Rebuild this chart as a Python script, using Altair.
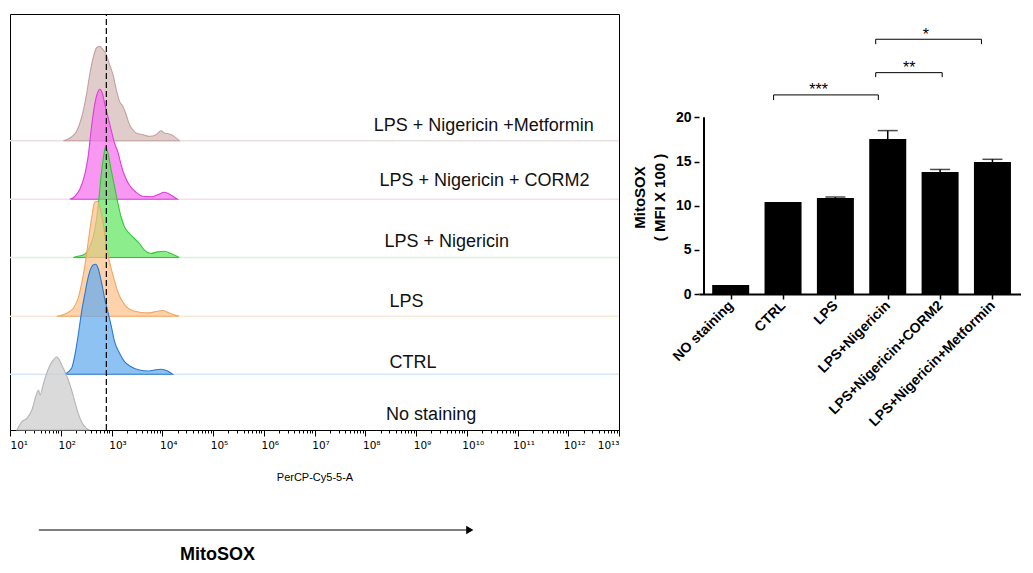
import math
import altair as alt
import pandas as pd

FONT = "Liberation Sans"

# ---------------- Flow cytometry histograms (x = log10 intensity, h = count height) -------------
samples = ["LPS + Nigericin +Metformin", "LPS + Nigericin + CORM2", "LPS + Nigericin",
           "LPS", "CTRL", "No staining"]
baselines = [289.3, 230.7, 172.5, 113.8, 55.7, 0.0]

met_x = [2.051, 2.180, 2.311, 2.409, 2.507, 2.571, 2.638, 2.703, 2.767, 2.834, 2.898, 2.963, 3.029,
         3.094, 3.159, 3.225, 3.290, 3.354, 3.421, 3.485, 3.616, 3.746, 3.877, 3.975, 4.039, 4.137,
         4.235, 4.333]
met_h = [0, 2.7, 9.3, 22.7, 46, 66, 82.7, 92.7, 94.3, 91, 86, 76, 66, 51, 39.3, 34.3, 26, 16, 11,
         7.7, 6, 4.3, 6, 10, 7.7, 6.7, 4.3, 0]

corm_x = [2.180, 2.278, 2.376, 2.474, 2.540, 2.605, 2.669, 2.722, 2.767, 2.820, 2.865, 2.932, 2.996,
          3.061, 3.127, 3.192, 3.256, 3.354, 3.485, 3.616, 3.779, 3.910, 4.039, 4.170, 4.300]
corm_h = [0, 3, 10, 25, 43, 72, 95, 106, 110, 106, 96, 82, 69, 56, 47, 34, 24, 14, 7, 3, 2.6, 4.5,
          7, 4.3, 0]

nig_x = [2.247, 2.311, 2.442, 2.571, 2.669, 2.736, 2.800, 2.853, 2.885, 2.932, 2.996, 3.061, 3.127,
         3.192, 3.256, 3.354, 3.452, 3.550, 3.648, 3.779, 3.910, 4.039, 4.170, 4.333]
nig_h = [0, 1, 2.5, 10.6, 27.3, 50.6, 84, 104, 110.6, 104, 87, 70.6, 54, 40, 30.6, 24, 19, 14, 7.3,
         4, 5.6, 6.3, 4, 0]

lps_x = [1.920, 2.115, 2.247, 2.344, 2.409, 2.474, 2.540, 2.605, 2.669, 2.722, 2.767, 2.834, 2.898,
         2.963, 3.029, 3.127, 3.225, 3.354, 3.550, 3.746, 3.877, 4.008, 4.137, 4.333]
lps_h = [0, 3, 8, 18, 32, 50, 74, 97, 114, 115, 110, 94, 71, 54, 41, 24, 14, 7, 4, 3.3, 4.7, 5.7,
         3.3, 0]

ctrl_x = [2.082, 2.213, 2.278, 2.344, 2.409, 2.474, 2.521, 2.571, 2.638, 2.689, 2.736, 2.800, 2.865,
          2.932, 2.996, 3.061, 3.159, 3.256, 3.387, 3.550, 3.714, 3.843, 3.975, 4.106, 4.204]
ctrl_h = [0, 6, 19, 39, 62, 80, 92.6, 102.6, 109.3, 110, 106, 92.6, 76, 62, 48, 32.6, 21, 12.6, 7.6,
          4.3, 3.3, 4.3, 5, 3.3, 0]

nost_x = [1.137, 1.202, 1.235, 1.333, 1.431, 1.528, 1.562, 1.593, 1.660, 1.724, 1.789, 1.855, 1.920,
          1.973, 2.018, 2.082, 2.149, 2.213, 2.278, 2.344, 2.409, 2.507, 2.571]
nost_h = [0, 6, 8.3, 11.7, 20, 36.7, 40, 35, 46.7, 56.7, 65, 70, 73.3, 70, 65, 58.3, 50, 40, 28.3,
          16.7, 8.3, 1.7, 0]

curves_x = [met_x, corm_x, nig_x, lps_x, ctrl_x, nost_x]
curves_h = [met_h, corm_h, nig_h, lps_h, ctrl_h, nost_h]

gate_log = 2.898  # dashed reference line

# sample label placement (log10 x of label start, height)
label_x = [8.168, 8.280, 8.378, 8.476, 8.476, 8.411]
label_y = [304, 249, 188.3, 128.3, 66.7, 15]

fills = ["#d6b9b9", "#f570ee", "#5ee65e", "#fdc18a", "#62aaee", "#cccccc"]
strokes = ["#c4a0a0", "#dc3fd6", "#36c436", "#f0a664", "#2c78cf", "#b5b5b5"]
base_colors = ["#e9e1e1", "#f9dcf3", "#d8f3d8", "#f8ead8", "#d5e7f6"]

# ---------------- Bar chart data ----------------
groups = ["NO staining", "CTRL", "LPS", "LPS+Nigericin", "LPS+Nigericin+CORM2",
          "LPS+Nigericin+Metformin"]
means = [1.02, 10.42, 10.87, 17.55, 13.80, 14.95]
sems = [0.0, 0.0, 0.10, 0.95, 0.30, 0.30]

br_x1 = [0.82, 2.77, 2.77]
br_x2 = [2.82, 4.04, 4.79]
br_y = [22.54, 25.06, 28.84]
br_drop = [21.95, 24.55, 28.28]
br_label = ["***", "**", "*"]
br_label_x = [1.68, 3.41, 3.73]

# ======================= LEFT PANEL =======================
sup = "['⁰','¹','²','³','⁴','⁵','⁶','⁷','⁸','⁹','¹⁰','¹¹','¹²','¹³']"
tick_vals = []
for n in range(1, 13):
    for k in range(1, 10):
        tick_vals.append(round(n + math.log10(k), 6))
tick_vals.append(13)

x_scale = alt.Scale(domain=[1, 13], nice=False, zero=False)
y_scale = alt.Scale(domain=[0, 416], nice=False, zero=False)

x_axis = alt.Axis(
    values=tick_vals,
    labelExpr="datum.value % 1 === 0 ? '10' + " + sup + "[datum.value] : ''",
    tickSize={"condition": {"test": "datum.value % 1 === 0", "value": 6}, "value": 3},
    labelOffset={"condition": {"test": "datum.value === 1 || datum.value === 13", "value": 0},
                 "value": 6},
    labelFlush=True, labelOverlap=False, labelFontSize=10.5, labelColor="black",
    labelFont="DejaVu Sans",
    labelPadding=4, tickColor="black", domainColor="black", grid=False,
    title="PerCP-Cy5-5-A", titleFontSize=11, titleFontWeight="normal", titleColor="black",
    titlePadding=21,
)

X = alt.X("x:Q", scale=x_scale, axis=x_axis)

layers = []

base_df = pd.DataFrame({"x": [1] * 5, "x2": [13] * 5, "y": baselines[:5], "c": base_colors})
layers.append(
    alt.Chart(base_df).mark_rule(strokeWidth=1.6).encode(
        x=X, x2="x2:Q", y=alt.Y("y:Q", scale=y_scale, axis=None),
        color=alt.Color("c:N", scale=None))
)

for i in range(6):
    df = pd.DataFrame({"x": curves_x[i], "h": curves_h[i]})
    df["base"] = baselines[i]
    df["top"] = df["base"] + df["h"]
    layers.append(
        alt.Chart(df).mark_area(fill=fills[i], fillOpacity=0.72, stroke=strokes[i],
                                strokeWidth=1.1, interpolate="monotone").encode(
            x=X, y=alt.Y("top:Q", scale=y_scale, axis=None), y2="base:Q")
    )

gate_df = pd.DataFrame({"x": [gate_log], "y": [0], "y2": [416]})
layers.append(
    alt.Chart(gate_df).mark_rule(color="black", strokeWidth=1.2, strokeDash=[6, 3]).encode(
        x=X, y=alt.Y("y:Q", scale=y_scale, axis=None), y2="y2:Q")
)

lab_df = pd.DataFrame({"x": label_x, "y": label_y, "t": samples})
layers.append(
    alt.Chart(lab_df).mark_text(align="left", baseline="middle", fontSize=18, color="#111",
                                font=FONT).encode(
        x=X, y=alt.Y("y:Q", scale=y_scale, axis=None), text="t:N")
)

arrow_df = pd.DataFrame({"x": [1.568], "x2": [10.0], "y": [-100]})
layers.append(
    alt.Chart(arrow_df).mark_rule(color="black", strokeWidth=1.2).encode(
        x=X, x2="x2:Q", y=alt.Y("y:Q", scale=y_scale, axis=None))
)
head_df = pd.DataFrame({"x": [10.06], "y": [-100]})
layers.append(
    alt.Chart(head_df).mark_point(shape="triangle-right", size=70, filled=True, color="black",
                                  opacity=1).encode(
        x=X, y=alt.Y("y:Q", scale=y_scale, axis=None))
)
mito_df = pd.DataFrame({"x": [5.09], "y": [-125], "t": ["MitoSOX"]})
layers.append(
    alt.Chart(mito_df).mark_text(align="center", baseline="middle", fontSize=18,
                                 fontWeight="bold", color="black", font=FONT).encode(
        x=X, y=alt.Y("y:Q", scale=y_scale, axis=None), text="t:N")
)

left = alt.layer(*layers).properties(
    width=609, height=416,
    view=alt.ViewBackground(stroke="black", strokeWidth=1),
)

# ======================= RIGHT PANEL =======================
bar_df = pd.DataFrame({"i": list(range(6)), "g": groups, "m": means, "s": sems})
bar_df["u"] = bar_df["m"] + bar_df["s"]

xb_scale = alt.Scale(domain=[-0.51, 5.45], nice=False, zero=False)
yb_scale = alt.Scale(domain=[0, 31.7], nice=False, zero=True)

names_js = "[" + ",".join("'" + g + "'" for g in groups) + "]"
xb_axis = alt.Axis(
    values=list(range(6)), labelExpr=names_js + "[datum.value]", labelAngle=-45,
    labelAlign="right", labelBaseline="middle", labelFontSize=14, labelFontWeight="bold",
    labelColor="black", labelPadding=4, labelOverlap=False, labelFont=FONT,
    tickColor="black", tickWidth=1.5, tickSize=5, domainColor="black", domainWidth=2,
    grid=False, title=None,
)
yb_axis = alt.Axis(
    values=[0, 5, 10, 15, 20], labelFontSize=14, labelFontWeight="bold", labelColor="black",
    labelFont=FONT, labelPadding=3, tickColor="black", tickWidth=1.5, tickSize=5,
    domain=False, grid=False,
    title=["MitoSOX", "( MFI X 100 )"], titleFontSize=15, titleFontWeight="bold",
    titleColor="black", titleFont=FONT, titleLineHeight=20, titlePadding=8, titleY=183,
)

XB = alt.X("i:Q", scale=xb_scale, axis=xb_axis)
YB = alt.Y("m:Q", scale=yb_scale, axis=yb_axis)

bars = alt.Chart(bar_df).mark_bar(size=37, color="black", orient="vertical").encode(x=XB, y=YB)

err_df = bar_df[bar_df["s"] > 0]
err_rule = alt.Chart(err_df).mark_rule(color="black", strokeWidth=1.5).encode(
    x=XB, y=YB, y2="u:Q")
err_cap = alt.Chart(err_df).mark_tick(color="black", orient="horizontal", size=20,
                                      thickness=1.5).encode(
    x=XB, y=alt.Y("u:Q", scale=yb_scale, axis=yb_axis))

yline_df = pd.DataFrame({"i": [-0.51], "m": [0], "m2": [20]})
yline = alt.Chart(yline_df).mark_rule(color="black", strokeWidth=2).encode(
    x=XB, y=YB, y2="m2:Q")

seg_rows = []
for k in range(3):
    seg_rows.append({"i": br_x1[k], "i2": br_x2[k], "m": br_y[k], "m2": br_y[k]})
    seg_rows.append({"i": br_x1[k], "i2": br_x1[k], "m": br_y[k], "m2": br_drop[k]})
    seg_rows.append({"i": br_x2[k], "i2": br_x2[k], "m": br_y[k], "m2": br_drop[k]})
seg_df = pd.DataFrame(seg_rows)
brackets = alt.Chart(seg_df).mark_rule(color="black", strokeWidth=1).encode(
    x=XB, x2="i2:Q", y=YB, y2="m2:Q")

star_df = pd.DataFrame({"i": br_label_x, "m": [y - 0.05 for y in br_y], "t": br_label})
stars = alt.Chart(star_df).mark_text(fontSize=16, color="black", baseline="alphabetic",
                                     align="center", font=FONT).encode(
    x=XB, y=YB, text="t:N")

right = alt.layer(bars, err_rule, err_cap, yline, brackets, stars).properties(
    width=322, height=280)

chart = alt.hconcat(left, right, spacing=8).properties(
    padding={"left": 0, "top": 4, "right": 0, "bottom": 0},
    background="white",
).configure(font=FONT).configure_view(stroke=None)

chart.save("out.html", embed_options={"renderer": "svg", "actions": False})
